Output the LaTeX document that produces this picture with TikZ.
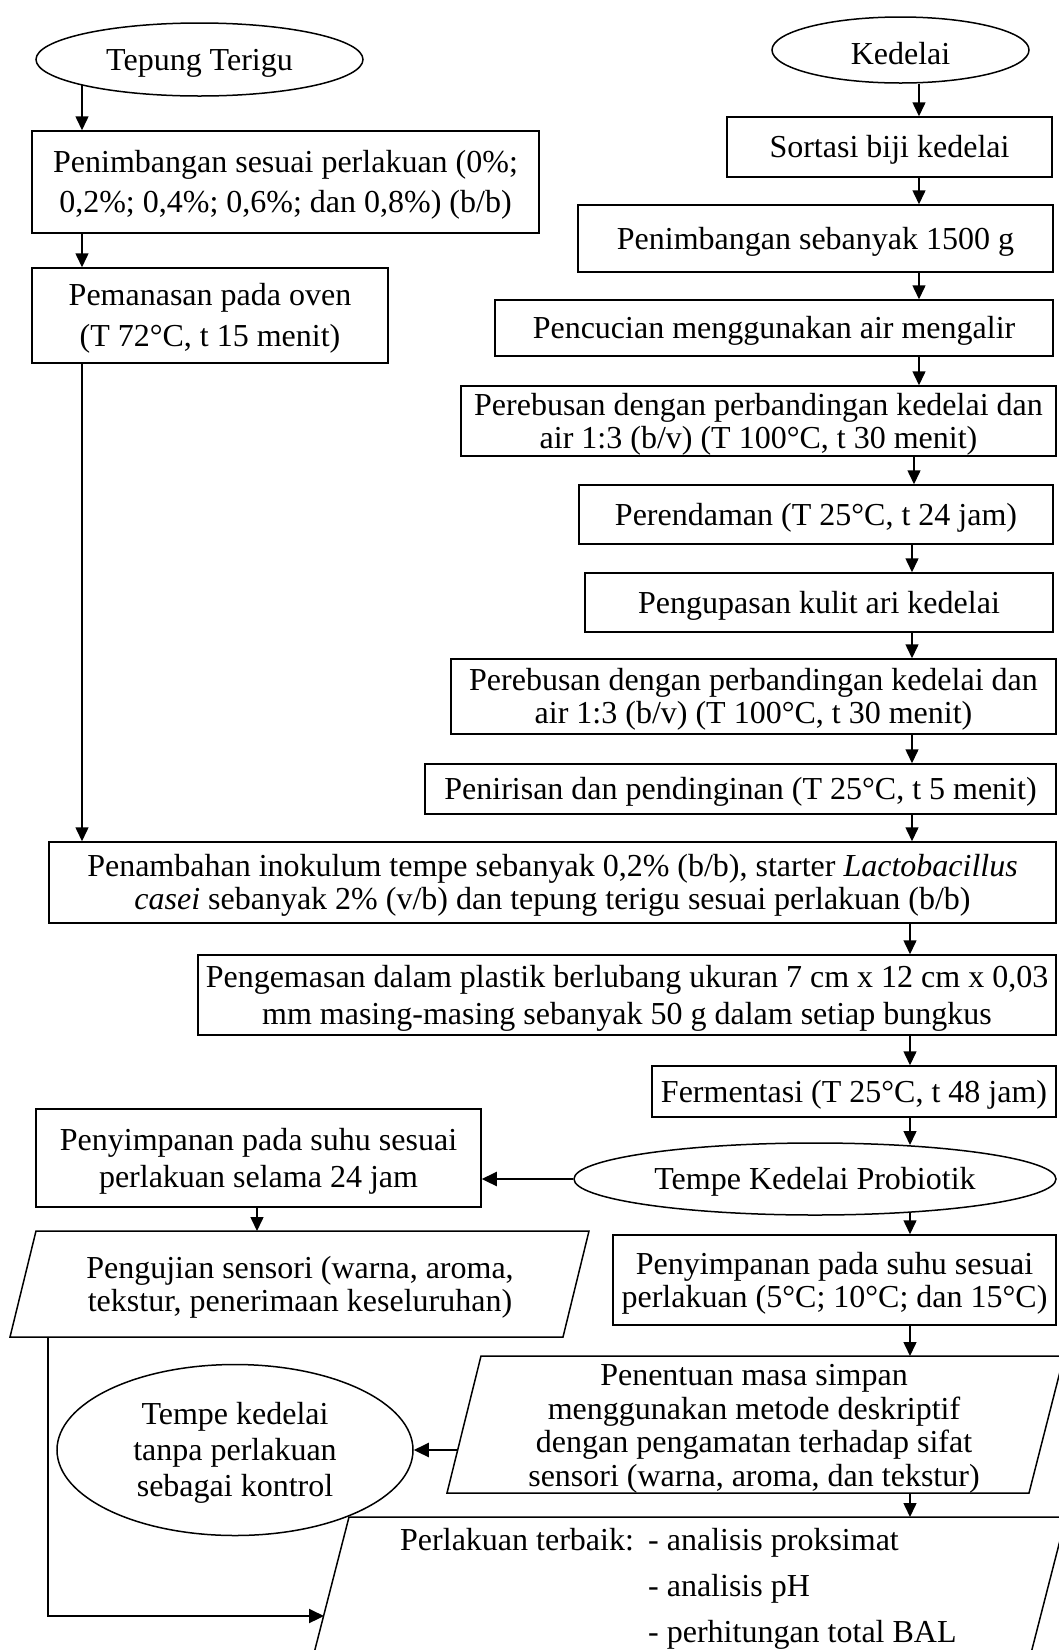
\documentclass[tikz,border=0pt]{standalone}
\usepackage{fontspec}
\setmainfont{Liberation Serif}
\usetikzlibrary{shapes.geometric,arrows.meta,calc}
\newcommand{\stt}{\rule{0pt}{28.5pt}}
\newcommand{\fs}[1]{\fontsize{32pt}{#1pt}\selectfont}
\newcommand{\mybox}[7][]{\node[box, #1, minimum width={#5pt-#3pt}, minimum height={#6pt-#4pt}] (#2) at ({(#3+#5)/2},{(#4+#6)/2}) {\stt#7};}
\begin{document}
\begin{tikzpicture}[x=1pt,y=-1pt,
  every node/.style={font=\fs{35}, inner sep=0pt, align=center},
  box/.style={draw, line width=1.5pt, rectangle},
  oval/.style={draw, line width=1.5pt, ellipse},
  outl/.style={draw, line width=1.5pt, line join=miter},
  arr/.style={line width=1.5pt, -{Triangle[length=14pt,width=13pt]}},
  harr/.style={line width=2.2pt, -{Triangle[length=15pt,width=14pt]}},
]
\fill[white] (0,0) rectangle (1059,1650);
\clip (0,0) rectangle (1059,1650);

% column x positions
\coordinate (xL) at (82,0);
\coordinate (xR1) at (919,0);
\coordinate (xR2) at (914,0);
\coordinate (xR3) at (912,0);
\coordinate (xR) at (910,0);
\coordinate (xM) at (257,0);
\coordinate (xB) at (48,0);

% left column
\node[oval, minimum width=327pt, minimum height=73pt] (T1) at (199.5,59.5) {\stt Tepung Terigu};
\mybox[font=\fs{40}]{PL}{32}{131}{539}{233}{Penimbangan sesuai perlakuan (0\%;\\0,2\%; 0,4\%; 0,6\%; dan 0,8\%) (b/b)}
\mybox[font=\fs{41}]{PM}{32}{268}{388}{363}{Pemanasan pada oven\\(T 72°C, t 15 menit)}

% right column
\node[oval, minimum width=257pt, minimum height=66pt] (K) at (900.5,50) {\stt Kedelai};
\mybox{S}{727}{117}{1052}{177}{Sortasi biji kedelai}
\mybox{P15}{578}{205}{1053}{272}{Penimbangan sebanyak 1500 g}
\mybox{Pc}{495}{300}{1053}{356}{Pencucian menggunakan air mengalir}
\mybox[font=\fs{33}]{Rb1}{461}{386}{1056}{456}{Perebusan dengan perbandingan kedelai dan\\air 1:3 (b/v) (T 100°C, t 30 menit)}
\mybox{Rd}{579}{485}{1053}{544}{Perendaman (T 25°C, t 24 jam)}
\mybox{Pk}{585}{573}{1053}{632}{Pengupasan kulit ari kedelai}
\mybox[font=\fs{33}]{Rb2}{451}{659}{1056}{734}{Perebusan dengan perbandingan kedelai dan\\air 1:3 (b/v) (T 100°C, t 30 menit)}
\mybox{Pr}{425}{764}{1056}{814}{Penirisan dan pendinginan (T 25°C, t 5 menit)}
\mybox[font=\fs{33}]{Pn}{49}{842}{1056}{923}{Penambahan inokulum tempe sebanyak 0,2\% (b/b), starter \textit{Lactobacillus}\\\textit{casei} sebanyak 2\% (v/b) dan tepung terigu sesuai perlakuan (b/b)}
\mybox[font=\fs{37}]{Pg}{198}{955}{1056}{1035}{Pengemasan dalam plastik berlubang ukuran 7 cm x 12 cm x 0,03\\mm masing-masing sebanyak 50 g dalam setiap bungkus}
\mybox{F}{652}{1066}{1056}{1117}{Fermentasi (T 25°C, t 48 jam)}
\node[oval, minimum width=482pt, minimum height=72pt] (TKP) at (815,1179) {\stt Tempe Kedelai Probiotik};
\mybox[font=\fs{37}]{SL}{36}{1109}{481}{1207}{Penyimpanan pada suhu sesuai\\perlakuan selama 24 jam}
\mybox[font=\fs{33}]{SR}{613}{1235}{1056}{1325}{Penyimpanan pada suhu sesuai\\perlakuan (5°C; 10°C; dan 15°C)}

% Pengujian parallelogram
\coordinate (gTL) at (36,1231);
\coordinate (gTR) at (589,1231);
\coordinate (gBR) at (563,1337);
\coordinate (gBL) at (10,1337);
\draw[outl] (gTL) -- (gTR) -- (gBR) -- (gBL) -- cycle;
\node[font=\fs{33}] (Pgj) at (300,1284) {\stt Pengujian sensori (warna, aroma,\\tekstur, penerimaan keseluruhan)};

% Penentuan parallelogram
\coordinate (nTL) at (481,1356);
\coordinate (nTR) at (1064,1356);
\coordinate (nBR) at (1029,1493);
\coordinate (nBL) at (447,1493);
\draw[outl] (nTL) -- (nTR) -- (nBR) -- (nBL) -- cycle;
\node[font=\fs{33.5}] (Pnt) at (754,1425) {\stt Penentuan masa simpan\\menggunakan metode deskriptif\\dengan pengamatan terhadap sifat\\sensori (warna, aroma, dan tekstur)};
\coordinate (nL) at (457,1450);

% control ellipse
\node[oval, font=\fs{36}, minimum width=356pt, minimum height=171pt] (TK) at (235,1450) {\stt Tempe kedelai\\tanpa perlakuan\\sebagai kontrol};

% Perlakuan terbaik parallelogram
\coordinate (lTL) at (349,1517);
\coordinate (lTR) at (1066,1517);
\coordinate (lBR) at (1019,1700);
\coordinate (lBL) at (302,1700);
\draw[outl] (lBL) -- (lTL) -- (lTR) -- (lBR);
\node[anchor=base west] (Plk) at (400,1550) {\begin{tabular}[t]{@{}l@{}l@{}}\makebox[248pt][l]{Perlakuan terbaik:} & - analisis proksimat\\[11pt] & - analisis pH\\[11pt] & - perhitungan total BAL\end{tabular}};
\coordinate (lL) at (324,1616);

% connectors, left column
\coordinate (t1b) at (82,85);
\draw[arr] (t1b) -- (PL.north -| xL);
\draw[arr] (PL.south -| xL) -- (PM.north -| xL);
\draw[arr] (PM.south -| xL) -- (Pn.north -| xL);

% connectors, right column
\draw[arr] (K.south -| xR1) -- (S.north -| xR1);
\draw[arr] (S.south -| xR1) -- (P15.north -| xR1);
\draw[arr] (P15.south -| xR1) -- (Pc.north -| xR1);
\draw[arr] (Pc.south -| xR1) -- (Rb1.north -| xR1);
\draw[arr] (Rb1.south -| xR2) -- (Rd.north -| xR2);
\draw[arr] (Rd.south -| xR3) -- (Pk.north -| xR3);
\draw[arr] (Pk.south -| xR3) -- (Rb2.north -| xR3);
\draw[arr] (Rb2.south -| xR3) -- (Pr.north -| xR3);
\draw[arr] (Pr.south -| xR3) -- (Pn.north -| xR3);
\draw[arr] (Pn.south -| xR) -- (Pg.north -| xR);
\draw[arr] (Pg.south -| xR) -- (F.north -| xR);
\coordinate (tkpT) at (910,1145);
\coordinate (tkpB) at (910,1212);
\draw[arr] (F.south -| xR) -- (tkpT);
\draw[harr] (TKP.west) -- (TKP.west -| SL.east);
\draw[arr] (tkpB) -- (SR.north -| xR);
\draw[arr] (SL.south -| xM) -- (gTL -| xM);
\draw[arr] (SR.south -| xR) -- (nTL -| xR);
\draw[harr] (nL) -- (TK.east);
\draw[arr] (nBL -| xR) -- (lTL -| xR);
\draw[harr] (gBL -| xB) |- (lL);
\end{tikzpicture}
\end{document}
